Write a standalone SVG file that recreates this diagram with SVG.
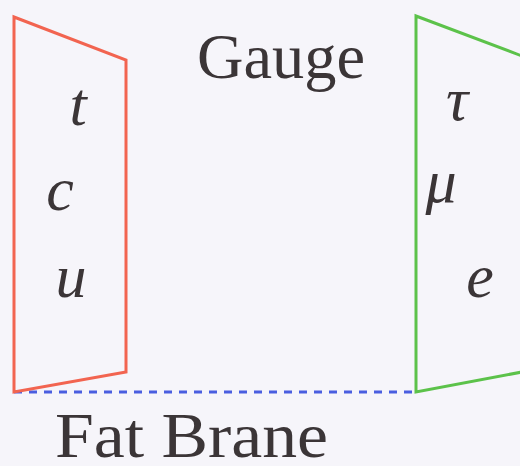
<svg xmlns="http://www.w3.org/2000/svg" width="520" height="466" viewBox="0 0 520 466">
<style>
.lbl{font-family:"Liberation Serif","DejaVu Serif",serif;fill:#3b3537}
.it{font-family:"Liberation Serif","DejaVu Serif",serif;font-style:italic;font-size:62px;fill:#3b3537;text-anchor:middle}
.frame{fill:none;stroke-width:3;stroke-linejoin:miter}
</style>
<rect width="520" height="466" fill="#f6f5fa"/>
<g id="connectors">
<line x1="14" y1="392" x2="416" y2="392" stroke="#4a5ee0" stroke-width="3" stroke-dasharray="8,7"/>
</g>
<g id="quark-brane">
<polygon class="frame" points="14,17 126,60 126,372 14,392" stroke="#f26450"/>
<text class="it" x="78" y="125">t</text>
<text class="it" x="60" y="210">c</text>
<text class="it" x="71" y="297">u</text>
</g>
<g id="lepton-brane">
<polyline class="frame" points="522,56 416,16 416,392 522,372" stroke="#5cc24a"/>
<text class="it" x="457" y="120">τ</text>
<text class="it" x="441" y="202">μ</text>
<text class="it" x="480" y="297">e</text>
</g>
<g id="gauge">
<text class="lbl" x="197" y="78" font-size="64" textLength="168" lengthAdjust="spacingAndGlyphs">Gauge</text>
</g>
<g id="fat-brane">
<text class="lbl" x="55" y="457" font-size="64" textLength="273" lengthAdjust="spacingAndGlyphs">Fat Brane</text>
</g>
</svg>
